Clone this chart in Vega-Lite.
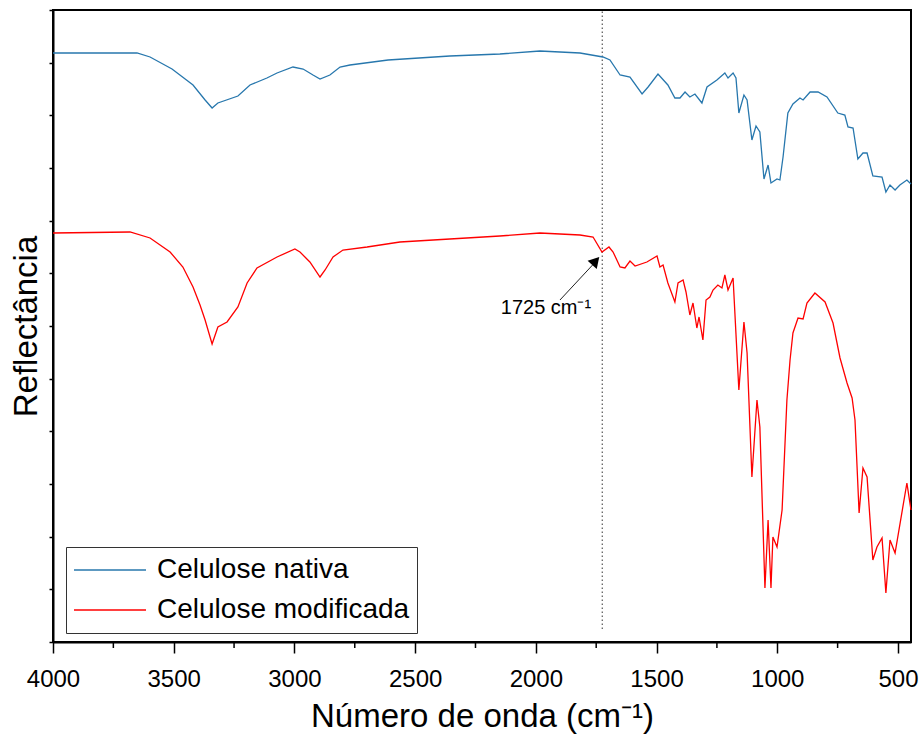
{
  "$schema": "https://vega.github.io/schema/vega-lite/v6.json",
  "width": 858,
  "height": 632,
  "autosize": {"type": "none"},
  "padding": {"left": 53, "top": 10, "right": 13, "bottom": 102},
  "background": "white",
  "config": {
    "view": {"stroke": "black", "strokeWidth": 2},
    "font": "Liberation Sans"
  },
  "datasets": {
    "spectra": [
      {"s": "Celulose nativa", "w": 4000, "r": 589},
      {"s": "Celulose nativa", "w": 3652, "r": 589},
      {"s": "Celulose nativa", "w": 3598, "r": 585},
      {"s": "Celulose nativa", "w": 3507, "r": 573},
      {"s": "Celulose nativa", "w": 3420, "r": 557},
      {"s": "Celulose nativa", "w": 3370, "r": 542},
      {"s": "Celulose nativa", "w": 3341, "r": 534},
      {"s": "Celulose nativa", "w": 3317, "r": 539},
      {"s": "Celulose nativa", "w": 3234, "r": 546},
      {"s": "Celulose nativa", "w": 3184, "r": 557},
      {"s": "Celulose nativa", "w": 3114, "r": 564},
      {"s": "Celulose nativa", "w": 3072, "r": 569},
      {"s": "Celulose nativa", "w": 3006, "r": 575},
      {"s": "Celulose nativa", "w": 2964, "r": 573},
      {"s": "Celulose nativa", "w": 2923, "r": 567},
      {"s": "Celulose nativa", "w": 2894, "r": 563},
      {"s": "Celulose nativa", "w": 2853, "r": 567},
      {"s": "Celulose nativa", "w": 2811, "r": 575},
      {"s": "Celulose nativa", "w": 2770, "r": 577},
      {"s": "Celulose nativa", "w": 2612, "r": 582},
      {"s": "Celulose nativa", "w": 2356, "r": 586},
      {"s": "Celulose nativa", "w": 2149, "r": 588},
      {"s": "Celulose nativa", "w": 1983, "r": 591},
      {"s": "Celulose nativa", "w": 1817, "r": 589},
      {"s": "Celulose nativa", "w": 1722, "r": 585},
      {"s": "Celulose nativa", "w": 1693, "r": 582},
      {"s": "Celulose nativa", "w": 1651, "r": 567},
      {"s": "Celulose nativa", "w": 1610, "r": 565},
      {"s": "Celulose nativa", "w": 1560, "r": 548},
      {"s": "Celulose nativa", "w": 1535, "r": 555},
      {"s": "Celulose nativa", "w": 1494, "r": 568},
      {"s": "Celulose nativa", "w": 1453, "r": 557},
      {"s": "Celulose nativa", "w": 1424, "r": 544},
      {"s": "Celulose nativa", "w": 1403, "r": 544},
      {"s": "Celulose nativa", "w": 1382, "r": 550},
      {"s": "Celulose nativa", "w": 1362, "r": 545},
      {"s": "Celulose nativa", "w": 1341, "r": 548},
      {"s": "Celulose nativa", "w": 1312, "r": 539},
      {"s": "Celulose nativa", "w": 1291, "r": 555},
      {"s": "Celulose nativa", "w": 1250, "r": 562},
      {"s": "Celulose nativa", "w": 1217, "r": 569},
      {"s": "Celulose nativa", "w": 1204, "r": 564},
      {"s": "Celulose nativa", "w": 1183, "r": 569},
      {"s": "Celulose nativa", "w": 1171, "r": 564},
      {"s": "Celulose nativa", "w": 1159, "r": 529},
      {"s": "Celulose nativa", "w": 1138, "r": 547},
      {"s": "Celulose nativa", "w": 1125, "r": 542},
      {"s": "Celulose nativa", "w": 1105, "r": 502},
      {"s": "Celulose nativa", "w": 1088, "r": 516},
      {"s": "Celulose nativa", "w": 1072, "r": 510},
      {"s": "Celulose nativa", "w": 1055, "r": 463},
      {"s": "Celulose nativa", "w": 1038, "r": 477},
      {"s": "Celulose nativa", "w": 1026, "r": 459},
      {"s": "Celulose nativa", "w": 1001, "r": 463},
      {"s": "Celulose nativa", "w": 989, "r": 462},
      {"s": "Celulose nativa", "w": 976, "r": 485},
      {"s": "Celulose nativa", "w": 956, "r": 529},
      {"s": "Celulose nativa", "w": 935, "r": 538},
      {"s": "Celulose nativa", "w": 906, "r": 544},
      {"s": "Celulose nativa", "w": 893, "r": 542},
      {"s": "Celulose nativa", "w": 864, "r": 550},
      {"s": "Celulose nativa", "w": 831, "r": 550},
      {"s": "Celulose nativa", "w": 794, "r": 545},
      {"s": "Celulose nativa", "w": 749, "r": 529},
      {"s": "Celulose nativa", "w": 720, "r": 527},
      {"s": "Celulose nativa", "w": 707, "r": 515},
      {"s": "Celulose nativa", "w": 686, "r": 514},
      {"s": "Celulose nativa", "w": 666, "r": 483},
      {"s": "Celulose nativa", "w": 645, "r": 489},
      {"s": "Celulose nativa", "w": 628, "r": 489},
      {"s": "Celulose nativa", "w": 604, "r": 466},
      {"s": "Celulose nativa", "w": 566, "r": 465},
      {"s": "Celulose nativa", "w": 550, "r": 450},
      {"s": "Celulose nativa", "w": 533, "r": 457},
      {"s": "Celulose nativa", "w": 512, "r": 452},
      {"s": "Celulose nativa", "w": 492, "r": 457},
      {"s": "Celulose nativa", "w": 463, "r": 462},
      {"s": "Celulose nativa", "w": 446, "r": 458},

      {"s": "Celulose modificada", "w": 4000, "r": 409},
      {"s": "Celulose modificada", "w": 3681, "r": 410},
      {"s": "Celulose modificada", "w": 3598, "r": 404},
      {"s": "Celulose modificada", "w": 3515, "r": 390},
      {"s": "Celulose modificada", "w": 3462, "r": 375},
      {"s": "Celulose modificada", "w": 3420, "r": 355},
      {"s": "Celulose modificada", "w": 3391, "r": 337},
      {"s": "Celulose modificada", "w": 3370, "r": 322},
      {"s": "Celulose modificada", "w": 3341, "r": 298},
      {"s": "Celulose modificada", "w": 3317, "r": 315},
      {"s": "Celulose modificada", "w": 3279, "r": 320},
      {"s": "Celulose modificada", "w": 3234, "r": 335},
      {"s": "Celulose modificada", "w": 3196, "r": 359},
      {"s": "Celulose modificada", "w": 3155, "r": 374},
      {"s": "Celulose modificada", "w": 3072, "r": 385},
      {"s": "Celulose modificada", "w": 2998, "r": 393},
      {"s": "Celulose modificada", "w": 2977, "r": 390},
      {"s": "Celulose modificada", "w": 2936, "r": 380},
      {"s": "Celulose modificada", "w": 2894, "r": 365},
      {"s": "Celulose modificada", "w": 2873, "r": 372},
      {"s": "Celulose modificada", "w": 2840, "r": 385},
      {"s": "Celulose modificada", "w": 2799, "r": 392},
      {"s": "Celulose modificada", "w": 2699, "r": 395},
      {"s": "Celulose modificada", "w": 2563, "r": 400},
      {"s": "Celulose modificada", "w": 2356, "r": 403},
      {"s": "Celulose modificada", "w": 2149, "r": 406},
      {"s": "Celulose modificada", "w": 1983, "r": 409},
      {"s": "Celulose modificada", "w": 1817, "r": 407},
      {"s": "Celulose modificada", "w": 1763, "r": 405},
      {"s": "Celulose modificada", "w": 1726, "r": 390},
      {"s": "Celulose modificada", "w": 1697, "r": 395},
      {"s": "Celulose modificada", "w": 1680, "r": 390},
      {"s": "Celulose modificada", "w": 1651, "r": 375},
      {"s": "Celulose modificada", "w": 1631, "r": 374},
      {"s": "Celulose modificada", "w": 1610, "r": 381},
      {"s": "Celulose modificada", "w": 1589, "r": 376},
      {"s": "Celulose modificada", "w": 1540, "r": 380},
      {"s": "Celulose modificada", "w": 1498, "r": 386},
      {"s": "Celulose modificada", "w": 1486, "r": 375},
      {"s": "Celulose modificada", "w": 1473, "r": 377},
      {"s": "Celulose modificada", "w": 1453, "r": 359},
      {"s": "Celulose modificada", "w": 1424, "r": 340},
      {"s": "Celulose modificada", "w": 1411, "r": 359},
      {"s": "Celulose modificada", "w": 1390, "r": 362},
      {"s": "Celulose modificada", "w": 1378, "r": 350},
      {"s": "Celulose modificada", "w": 1362, "r": 327},
      {"s": "Celulose modificada", "w": 1349, "r": 339},
      {"s": "Celulose modificada", "w": 1333, "r": 314},
      {"s": "Celulose modificada", "w": 1324, "r": 325},
      {"s": "Celulose modificada", "w": 1308, "r": 302},
      {"s": "Celulose modificada", "w": 1295, "r": 342},
      {"s": "Celulose modificada", "w": 1279, "r": 345},
      {"s": "Celulose modificada", "w": 1266, "r": 352},
      {"s": "Celulose modificada", "w": 1246, "r": 357},
      {"s": "Celulose modificada", "w": 1229, "r": 354},
      {"s": "Celulose modificada", "w": 1217, "r": 367},
      {"s": "Celulose modificada", "w": 1204, "r": 352},
      {"s": "Celulose modificada", "w": 1183, "r": 364},
      {"s": "Celulose modificada", "w": 1159, "r": 252},
      {"s": "Celulose modificada", "w": 1138, "r": 320},
      {"s": "Celulose modificada", "w": 1125, "r": 289},
      {"s": "Celulose modificada", "w": 1105, "r": 165},
      {"s": "Celulose modificada", "w": 1084, "r": 242},
      {"s": "Celulose modificada", "w": 1072, "r": 215},
      {"s": "Celulose modificada", "w": 1059, "r": 115},
      {"s": "Celulose modificada", "w": 1051, "r": 54},
      {"s": "Celulose modificada", "w": 1038, "r": 122},
      {"s": "Celulose modificada", "w": 1026, "r": 54},
      {"s": "Celulose modificada", "w": 1018, "r": 105},
      {"s": "Celulose modificada", "w": 1001, "r": 95},
      {"s": "Celulose modificada", "w": 980, "r": 132},
      {"s": "Celulose modificada", "w": 960, "r": 242},
      {"s": "Celulose modificada", "w": 947, "r": 282},
      {"s": "Celulose modificada", "w": 935, "r": 309},
      {"s": "Celulose modificada", "w": 914, "r": 324},
      {"s": "Celulose modificada", "w": 893, "r": 323},
      {"s": "Celulose modificada", "w": 877, "r": 339},
      {"s": "Celulose modificada", "w": 844, "r": 349},
      {"s": "Celulose modificada", "w": 802, "r": 340},
      {"s": "Celulose modificada", "w": 769, "r": 319},
      {"s": "Celulose modificada", "w": 740, "r": 284},
      {"s": "Celulose modificada", "w": 711, "r": 259},
      {"s": "Celulose modificada", "w": 690, "r": 244},
      {"s": "Celulose modificada", "w": 678, "r": 222},
      {"s": "Celulose modificada", "w": 661, "r": 129},
      {"s": "Celulose modificada", "w": 645, "r": 174},
      {"s": "Celulose modificada", "w": 628, "r": 165},
      {"s": "Celulose modificada", "w": 604, "r": 82},
      {"s": "Celulose modificada", "w": 587, "r": 95},
      {"s": "Celulose modificada", "w": 566, "r": 104},
      {"s": "Celulose modificada", "w": 550, "r": 49},
      {"s": "Celulose modificada", "w": 533, "r": 102},
      {"s": "Celulose modificada", "w": 512, "r": 89},
      {"s": "Celulose modificada", "w": 463, "r": 159},
      {"s": "Celulose modificada", "w": 446, "r": 132}
    ],
    "minor": [
      {"w": 3750, "a": 0, "b": -6},
      {"w": 3250, "a": 0, "b": -6},
      {"w": 2750, "a": 0, "b": -6},
      {"w": 2250, "a": 0, "b": -6},
      {"w": 1750, "a": 0, "b": -6},
      {"w": 1250, "a": 0, "b": -6},
      {"w": 750, "a": 0, "b": -6}
    ],
    "marker": [{"w": 1725, "a": 13, "b": 632}],
    "arrow": [{"w": 1900, "a": 342, "w2": 1765, "b": 377}],
    "head": [{"w": 1752, "r": 381}],
    "label": [{"w": 1958, "r": 334, "t": "1725 cm⁻¹"}]
  },
  "layer": [
    {
      "data": {"name": "minor"},
      "mark": {"type": "rule", "color": "black", "strokeWidth": 1.5, "clip": false},
      "encoding": {
        "x": {"field": "w", "type": "quantitative"},
        "y": {"field": "a", "type": "quantitative"},
        "y2": {"field": "b"}
      }
    },
    {
      "data": {"name": "marker"},
      "mark": {"type": "rule", "color": "#333333", "strokeWidth": 1, "strokeDash": [1.5, 2.5]},
      "encoding": {
        "x": {"field": "w", "type": "quantitative"},
        "y": {"field": "a", "type": "quantitative"},
        "y2": {"field": "b"}
      }
    },
    {
      "data": {"name": "spectra"},
      "mark": {"type": "line", "strokeWidth": 1.3},
      "encoding": {
        "x": {
          "field": "w", "type": "quantitative",
          "scale": {"domain": [446, 4000], "reverse": true, "nice": false, "zero": false},
          "axis": {
            "values": [4000, 3500, 3000, 2500, 2000, 1500, 1000, 500],
            "format": "d",
            "title": "Número de onda (cm⁻¹)",
            "titleFontSize": 33, "titleFontWeight": "normal", "titleColor": "black",
            "titlePadding": 9,
            "labelFontSize": 24, "labelColor": "black", "labelPadding": 14,
            "tickSize": 11, "tickWidth": 1.5, "tickColor": "black",
            "domainColor": "black", "domainWidth": 2,
            "grid": false, "labelFlush": false, "labelOverlap": false
          }
        },
        "y": {
          "field": "r", "type": "quantitative",
          "scale": {"domain": [0, 632], "nice": false, "zero": false},
          "axis": {
            "values": [0, 52.7, 105.3, 158, 210.7, 263.3, 316, 368.7, 421.3, 474, 526.7, 579.3, 632],
            "labels": false,
            "title": "Reflectância",
            "titleFontSize": 33, "titleFontWeight": "normal", "titleColor": "black",
            "titlePadding": 5,
            "tickSize": 4, "tickWidth": 1.5, "tickColor": "black",
            "domainColor": "black", "domainWidth": 2,
            "grid": false
          }
        },
        "color": {
          "field": "s", "type": "nominal",
          "scale": {"domain": ["Celulose nativa", "Celulose modificada"], "range": ["#2777ad", "#ff0000"]},
          "legend": {
            "title": null,
            "orient": "none",
            "legendX": 13, "legendY": 537,
            "direction": "vertical",
            "symbolType": "stroke",
            "symbolSize": 5184,
            "symbolStrokeWidth": 1.5,
            "clipHeight": 32,
            "labelFontSize": 28, "labelColor": "black",
            "labelOffset": 10,
            "rowPadding": 8,
            "padding": 7,
            "strokeColor": "#333333",
            "fillColor": "white",
            "labelLimit": 400
          }
        }
      }
    },
    {
      "data": {"name": "arrow"},
      "mark": {"type": "rule", "color": "#222222", "strokeWidth": 1},
      "encoding": {
        "x": {"field": "w", "type": "quantitative"},
        "x2": {"field": "w2"},
        "y": {"field": "a", "type": "quantitative"},
        "y2": {"field": "b"}
      }
    },
    {
      "data": {"name": "head"},
      "mark": {"type": "point", "shape": "triangle-up", "filled": true, "color": "black", "size": 150, "angle": 42, "opacity": 1},
      "encoding": {
        "x": {"field": "w", "type": "quantitative"},
        "y": {"field": "r", "type": "quantitative"}
      }
    },
    {
      "data": {"name": "label"},
      "mark": {"type": "text", "fontSize": 20, "color": "black", "align": "center", "baseline": "middle"},
      "encoding": {
        "x": {"field": "w", "type": "quantitative"},
        "y": {"field": "r", "type": "quantitative"},
        "text": {"field": "t"}
      }
    }
  ]
}
